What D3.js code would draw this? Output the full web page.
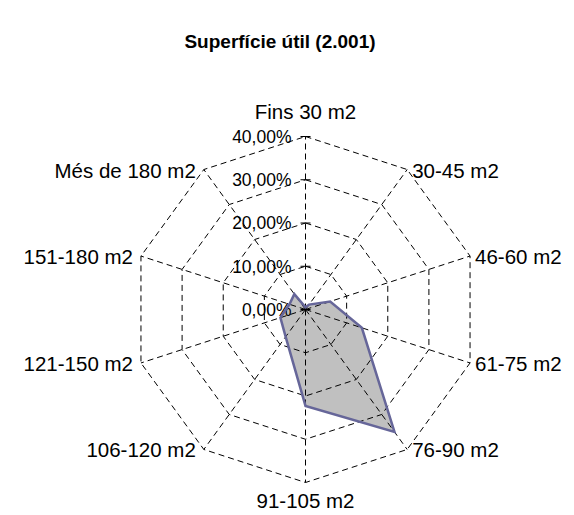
<!DOCTYPE html>
<html>
<head>
<meta charset="utf-8">
<script src="https://cdn.jsdelivr.net/npm/d3@7"></script>
<style>
  body { margin: 0; background: #fff; }
  svg text { font-family: Arial, "Liberation Sans", sans-serif; fill: #000; }
</style>
</head>
<body>
<div id="chart"></div>
<script>
// data
var categories = ["Fins 30 m2", "30-45 m2", "46-60 m2", "61-75 m2", "76-90 m2",
  "91-105 m2", "106-120 m2", "121-150 m2", "151-180 m2", "Més de 180 m2"];
var shares = [0.5, 1.4, 6.0, 13.7, 35.0, 22.3, 7.8, 6.1, 3.9, 4.4];
var tickValues = [0, 10, 20, 30, 40];
var tickLabels = ["0,00%", "10,00%", "20,00%", "30,00%", "40,00%"];

var svgWidth = 574;
var svgHeight = 515;
var cx = 305.5;
var cy = 309.5;
var R = 173;

var svg = d3.select("#chart")
  .append("svg")
  .attr("width", svgWidth)
  .attr("height", svgHeight);

var g = svg.append("g")
  .attr("transform", `translate(${cx}, ${cy})`);

var rScale = d3.scaleLinear().domain([0, 40]).range([0, R]);
var angle = d3.scaleLinear().domain([0, categories.length]).range([0, 2 * Math.PI]);

function pt(i, v) {
  var a = angle(i);
  return [Math.sin(a) * rScale(v), -Math.cos(a) * rScale(v)];
}

var radial = d3.lineRadial()
  .angle((d, i) => angle(i))
  .radius(d => rScale(d))
  .curve(d3.curveLinearClosed);

// title
svg.append("text")
  .attr("x", 280)
  .attr("y", 48)
  .attr("text-anchor", "middle")
  .attr("font-size", "19px")
  .attr("font-weight", "bold")
  .text("Superfície útil (2.001)");

// series fill (under the grid)
g.append("path")
  .datum(shares)
  .attr("d", radial)
  .attr("fill", "#c0c0c0")
  .attr("stroke", "none");

// rings
tickValues.slice(1).forEach(function(t) {
  g.append("path")
    .datum(categories.map(() => t))
    .attr("d", radial)
    .attr("fill", "none")
    .attr("stroke", "#000")
    .attr("stroke-width", 1)
    .attr("stroke-dasharray", "6,4");
});

// spokes
g.selectAll(".spoke")
  .data(categories)
  .enter()
  .append("line")
  .attr("class", "spoke")
  .attr("x1", 0)
  .attr("y1", 0)
  .attr("x2", (d, i) => pt(i, 40)[0])
  .attr("y2", (d, i) => pt(i, 40)[1])
  .attr("stroke", "#000")
  .attr("stroke-width", 1)
  .attr("stroke-dasharray", "6,4");

// ticks on the value axis
g.selectAll(".tick")
  .data(tickValues)
  .enter()
  .append("line")
  .attr("class", "tick")
  .attr("x1", -5)
  .attr("x2", 5)
  .attr("y1", d => -rScale(d))
  .attr("y2", d => -rScale(d))
  .attr("stroke", "#000")
  .attr("stroke-width", 1);

g.selectAll(".tickLabel")
  .data(tickValues)
  .enter()
  .append("text")
  .attr("class", "tickLabel")
  .attr("x", -14)
  .attr("y", d => -rScale(d))
  .attr("dy", "0.36em")
  .attr("text-anchor", "end")
  .attr("font-size", "17.5px")
  .text((d, i) => tickLabels[i]);

// series outline
g.append("path")
  .datum(shares)
  .attr("d", radial)
  .attr("fill", "none")
  .attr("stroke", "#666699")
  .attr("stroke-width", 2.5)
  .attr("stroke-linejoin", "miter");

// category labels
g.selectAll(".catLabel")
  .data(categories)
  .enter()
  .append("text")
  .attr("class", "catLabel")
  .attr("font-size", "20.5px")
  .attr("x", function(d, i) {
    var s = Math.sin(angle(i));
    return pt(i, 40)[0] + (s > 0.1 ? 5 : s < -0.1 ? -8 : 0);
  })
  .attr("y", function(d, i) {
    var c = Math.cos(angle(i));
    var y = pt(i, 40)[1];
    if (c > 0.9) return y - 18;
    if (c < -0.9) return y + 25;
    return y + 8;
  })
  .attr("text-anchor", function(d, i) {
    var s = Math.sin(angle(i));
    return s > 0.1 ? "start" : s < -0.1 ? "end" : "middle";
  })
  .text(d => d);
</script>
</body>
</html>
